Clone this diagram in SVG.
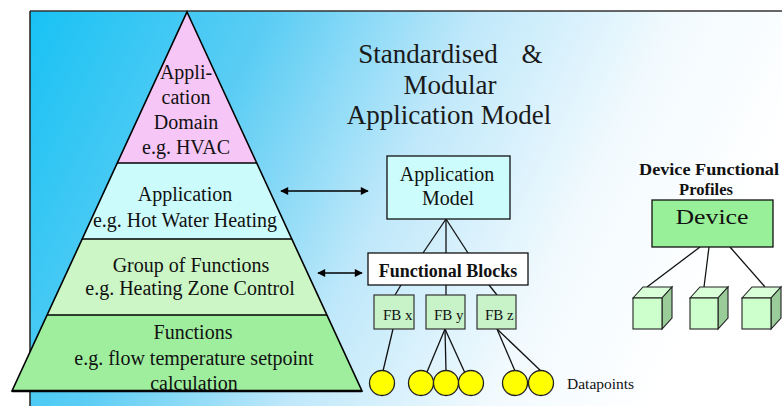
<svg xmlns="http://www.w3.org/2000/svg" width="782" height="406" viewBox="0 0 782 406" font-family="'Liberation Serif', 'DejaVu Serif', serif">
<defs>
<linearGradient id="bg" gradientUnits="userSpaceOnUse" x1="30" y1="11" x2="690" y2="330">
<stop offset="0" stop-color="#18c2f4"/>
<stop offset="0.3" stop-color="#5ccdf4"/>
<stop offset="0.55" stop-color="#bfe8fa"/>
<stop offset="0.8" stop-color="#f2fafe"/>
<stop offset="1" stop-color="#ffffff"/>
</linearGradient>
<marker id="ah" viewBox="0 0 10 10" refX="9" refY="5" markerWidth="9" markerHeight="8" orient="auto-start-reverse" markerUnits="userSpaceOnUse">
<path d="M0,0 L10,5 L0,10 z" fill="#000"/>
</marker>
</defs>
<style>
text{font-family:'Liberation Serif','DejaVu Serif',serif;fill:#111}
.t20{font-size:20px;text-anchor:middle}
.title{font-size:27px;text-anchor:middle;fill:#1a1a1a}
.band{stroke:none}
.edge{fill:none;stroke:#000;stroke-width:1.6}
.conn{stroke:#111;stroke-width:1.3;fill:none}
.arrow{stroke:#000;stroke-width:1.5;fill:none;marker-start:url(#ah);marker-end:url(#ah)}
.box{stroke:#111;stroke-width:1.3}
.fb{fill:#c8f2c8;stroke:#333;stroke-width:1.2}
.fbt{font-size:15px}
.dp{fill:#ffff00;stroke:#222;stroke-width:1.3}
.front{fill:#ccffcc;stroke:#222;stroke-width:1.1}
.side{fill:#99cc99;stroke:#222;stroke-width:1.1}
.top{fill:#d8ffd8;stroke:#222;stroke-width:1.1}
</style>
<rect x="0" y="0" width="782" height="406" fill="#fff"/>
<rect x="30" y="11" width="752" height="395" fill="url(#bg)"/>
<line x1="30" y1="11" x2="782" y2="11" stroke="#333" stroke-width="1.5"/>
<line x1="30" y1="11" x2="30" y2="406" stroke="#222" stroke-width="1.5"/>

<g id="pyramid">
<g id="band-domain">
<polygon class="band" points="187,12 257,163 117,163" fill="#f6c6f6"/>
<text class="t20" x="186" y="79">Appli-</text>
<text class="t20" x="186" y="104">cation</text>
<text class="t20" x="186" y="129">Domain</text>
<text class="t20" x="186" y="154">e.g. HVAC</text>
</g>
<g id="band-application">
<polygon class="band" points="117,163 257,163 292,239 82,239" fill="#ccfbfb"/>
<text class="t20" x="185" y="201">Application</text>
<text class="t20" x="185" y="227">e.g. Hot Water Heating</text>
</g>
<g id="band-group">
<polygon class="band" points="82,239 292,239 327,315 47,315" fill="#ccf6c6"/>
<text class="t20" x="191" y="272">Group of Functions</text>
<text class="t20" x="190" y="295">e.g. Heating Zone Control</text>
</g>
<g id="band-functions">
<polygon class="band" points="47,315 327,315 362,391 12,391" fill="#9eee9e"/>
<text class="t20" x="193" y="339">Functions</text>
<text class="t20" x="194" y="365">e.g. flow temperature setpoint</text>
<text class="t20" x="194" y="390">calculation</text>
</g>
<polygon class="edge" points="187,12 362,391 12,391"/>
<line class="edge" x1="117" y1="163" x2="257" y2="163"/>
<line class="edge" x1="82" y1="239" x2="292" y2="239"/>
<line class="edge" x1="47" y1="315" x2="327" y2="315"/>
<line x1="12" y1="391" x2="362" y2="391" stroke="#000" stroke-width="2.4"/>
</g>

<g id="title">
<text class="title" y="63"><tspan x="428">Standardised</tspan><tspan x="532">&amp;</tspan></text>
<text class="title" x="450" y="94">Modular</text>
<text class="title" x="449" y="124">Application Model</text>
</g>

<g id="connectors">
<line class="arrow" x1="281" y1="191" x2="368" y2="191"/>
<line class="arrow" x1="318" y1="273" x2="362" y2="273"/>
<line class="conn" x1="446" y1="219" x2="423" y2="253"/>
<line class="conn" x1="446" y1="219" x2="446" y2="253"/>
<line class="conn" x1="446" y1="219" x2="468" y2="253"/>
<line class="conn" x1="401" y1="285" x2="395" y2="295"/>
<line class="conn" x1="446" y1="285" x2="446" y2="295"/>
<line class="conn" x1="489" y1="285" x2="497" y2="295"/>
<line class="conn" x1="393" y1="329" x2="383" y2="371"/>
<line class="conn" x1="445" y1="329" x2="427" y2="372"/>
<line class="conn" x1="445" y1="329" x2="446" y2="371"/>
<line class="conn" x1="445" y1="329" x2="465" y2="373"/>
<line class="conn" x1="497" y1="329" x2="515" y2="371"/>
<line class="conn" x1="497" y1="329" x2="542" y2="372"/>
<line class="conn" x1="700" y1="247" x2="647" y2="287"/>
<line class="conn" x1="709" y1="247" x2="704" y2="287"/>
<line class="conn" x1="730" y1="247" x2="765" y2="287"/>
</g>

<g id="app-model">
<rect class="box" x="387" y="156" width="123" height="63" fill="#ccfcfc"/>
<text class="t20" x="447" y="181">Application</text>
<text class="t20" x="448" y="205">Model</text>
</g>

<g id="functional-blocks">
<rect class="box" x="368" y="253" width="160" height="32" fill="#ffffff"/>
<text x="448" y="277" style="font-size:18px;font-weight:bold;text-anchor:middle">Functional Blocks</text>
</g>

<g id="fb-x"><rect class="fb" x="374" y="295" width="40" height="34"/><text class="fbt" x="383" y="320">FB x</text></g>
<g id="fb-y"><rect class="fb" x="426" y="295" width="39" height="34"/><text class="fbt" x="434" y="320">FB y</text></g>
<g id="fb-z"><rect class="fb" x="477" y="295" width="39" height="34"/><text class="fbt" x="485" y="320">FB z</text></g>

<g id="datapoints">
<circle class="dp" cx="382" cy="383" r="12.5"/>
<circle class="dp" cx="421" cy="383" r="12.5"/>
<circle class="dp" cx="446" cy="383" r="12.5"/>
<circle class="dp" cx="471" cy="383" r="12.5"/>
<circle class="dp" cx="515" cy="383" r="12.5"/>
<circle class="dp" cx="541" cy="383" r="12.5"/>
<text x="567" y="389" style="font-size:15.5px">Datapoints</text>
</g>

<g id="device-profiles">
<text x="709" y="175" style="font-size:16.5px;font-weight:bold;text-anchor:middle" textLength="140" lengthAdjust="spacingAndGlyphs">Device Functional</text>
<text x="706" y="195" style="font-size:16.5px;font-weight:bold;text-anchor:middle">Profiles</text>
</g>

<g id="device">
<rect class="box" x="652" y="200" width="121" height="47" fill="#98f098"/>
<text x="712" y="224" style="font-size:21px;text-anchor:middle" textLength="73" lengthAdjust="spacingAndGlyphs">Device</text>
</g>

<g id="cube-1">
<polygon class="top" points="633,298 643,287 672,287 662,298"/>
<polygon class="side" points="662,298 672,287 672,318 662,329"/>
<rect class="front" x="633" y="298" width="29" height="31"/>
</g>
<g id="cube-2">
<polygon class="top" points="690,298 700,287 728,287 718,298"/>
<polygon class="side" points="718,298 728,287 728,318 718,329"/>
<rect class="front" x="690" y="298" width="28" height="31"/>
</g>
<g id="cube-3">
<polygon class="top" points="742,298 752,287 781,287 771,298"/>
<polygon class="side" points="771,298 781,287 781,318 771,329"/>
<rect class="front" x="742" y="298" width="29" height="31"/>
</g>
</svg>
